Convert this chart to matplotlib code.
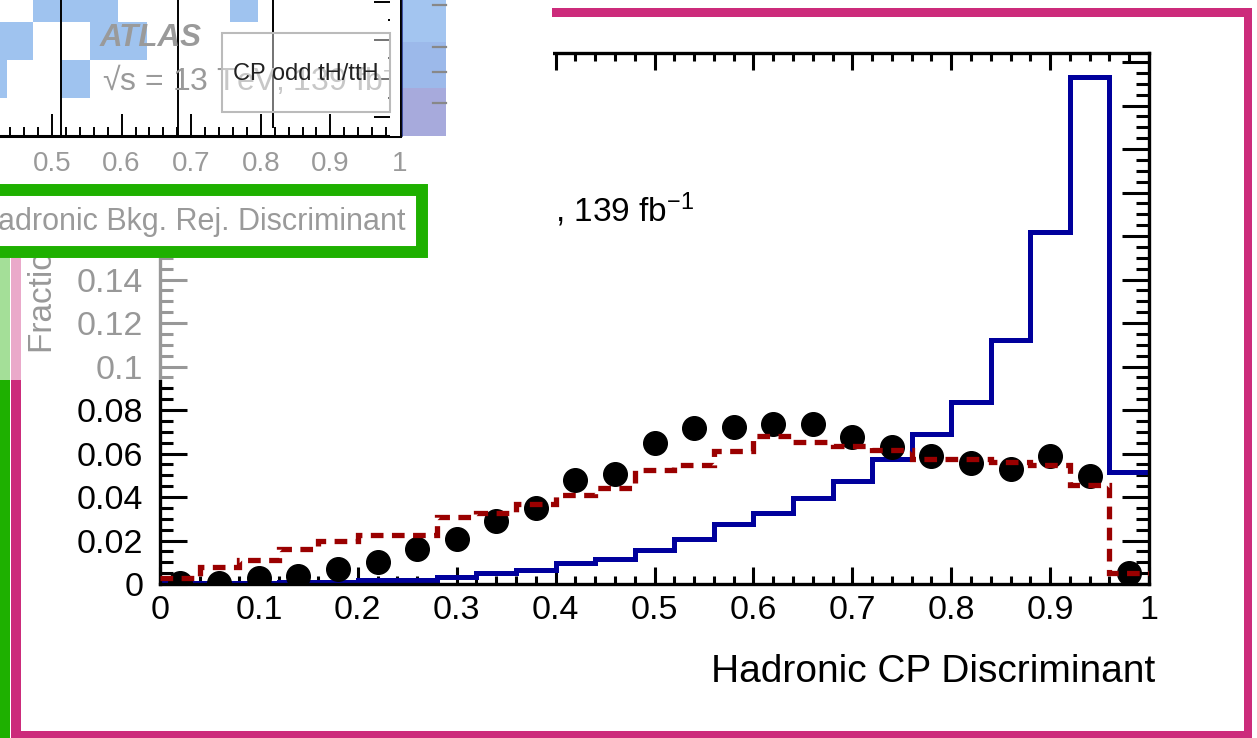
import numpy as np
import matplotlib
matplotlib.use("Agg")
import matplotlib.pyplot as plt
from matplotlib.patches import Rectangle
from matplotlib.ticker import MultipleLocator, FuncFormatter

plt.rcParams['font.family'] = ['Liberation Sans', 'DejaVu Sans']
plt.rcParams['mathtext.fontset'] = 'custom'
plt.rcParams['mathtext.rm'] = 'Liberation Sans'
plt.rcParams['mathtext.it'] = 'Liberation Sans:italic'
plt.rcParams['mathtext.bf'] = 'Liberation Sans:bold'

# ---------------- data (main plot) ----------------
bin_edges = np.linspace(0.0, 1.0, 26)
cp_odd = [0.0004, 0.0005, 0.0006, 0.0008, 0.0010, 0.0018, 0.0018, 0.0033, 0.0052,
          0.0064, 0.0095, 0.0113, 0.0158, 0.0207, 0.0274, 0.0325, 0.0394, 0.0474,
          0.0573, 0.0688, 0.0835, 0.1122, 0.1618, 0.2330, 0.0515]
cp_even = [0.0026, 0.0080, 0.0110, 0.0160, 0.0199, 0.0225, 0.0225, 0.0307, 0.0325,
           0.0368, 0.0410, 0.0443, 0.0524, 0.0547, 0.0613, 0.0680, 0.0654, 0.0634,
           0.0616, 0.0573, 0.0573, 0.0562, 0.0547, 0.0455, 0.0052]
data_pts = [0.0005, 0.0003, 0.0027, 0.0037, 0.0068, 0.0103, 0.0160, 0.0208, 0.0290,
            0.0351, 0.0478, 0.0506, 0.0647, 0.0719, 0.0722, 0.0734, 0.0736, 0.0677,
            0.0628, 0.0589, 0.0558, 0.0530, 0.0589, 0.0497, 0.0049]
x_label = "Hadronic CP Discriminant"
y_label = "Fraction of Events"
lumi_fragment = ", 139 fb$^{-1}$"

# ---------------- data (overlaid inset fragment) ----------------
inset_ticks = [0.5, 0.6, 0.7, 0.8, 0.9, 1.0]
inset_cells_x0 = [0.473, 0.756, 0.4253, 0.555, 0.511, 0.4253]
inset_cells_x1 = [0.595, 0.796, 0.473, 0.636, 0.555, 0.435]
inset_cells_row = [0, 0, 1, 1, 2, 2]
inset_label = "Hadronic Bkg. Rej. Discriminant"

W, H = 1257, 738
fig = plt.figure(figsize=(W / 100, H / 100), dpi=100)


def px_rect(x0, y0, x1, y1):
    return [x0 / W, 1 - y1 / H, (x1 - x0) / W, (y1 - y0) / H]


# ---------------- main axes ----------------
ax = fig.add_axes(px_rect(160, 52.5, 1149, 584))
ax.set_zorder(1)
ax.set_xlim(0, 1)
ax.set_ylim(0, 0.2444)
centers = 0.5 * (bin_edges[:-1] + bin_edges[1:])
ax.stairs(cp_odd, bin_edges, baseline=None, color='#00009c', lw=3.6, zorder=2)
ax.plot(centers, data_pts, 'o', color='black', ms=17, zorder=3)
ax.stairs(cp_even, bin_edges, baseline=None, color='#9a0000', lw=3.8,
          linestyle=(0, (2.4, 1.6)), zorder=4)

fmt = FuncFormatter(lambda v, p: ('%g' % round(v, 4)))
ax.xaxis.set_major_locator(MultipleLocator(0.1))
ax.xaxis.set_minor_locator(MultipleLocator(0.02))
ax.yaxis.set_major_locator(MultipleLocator(0.02))
ax.yaxis.set_minor_locator(MultipleLocator(0.005))
ax.xaxis.set_major_formatter(fmt)
ax.yaxis.set_major_formatter(fmt)
ax.tick_params(axis='both', which='both', direction='in', top=True, right=True,
               width=2.2, labelsize=24.5)
ax.tick_params(axis='x', which='major', length=12, pad=8)
ax.tick_params(axis='x', which='minor', length=6)
ax.tick_params(axis='y', which='major', length=19.5, pad=12)
ax.tick_params(axis='y', which='minor', length=9.5)
for s in ax.spines.values():
    s.set_linewidth(2.4)
ax.set_xlabel(x_label, fontsize=28, loc='right')
ax.xaxis.set_label_coords((1155 - 160) / 989, -(654 - 584) / 531.5)

# ---------------- overlay layer in pixel coordinates ----------------
ov = fig.add_axes([0, 0, 1, 1])
ov.set_zorder(2)
ov.set_xlim(0, W)
ov.set_ylim(H, 0)
ov.axis('off')
ov.patch.set_visible(False)

# y label of main plot (mostly covered)
ov.text(44, 353, y_label, rotation=90, ha='center', va='bottom', fontsize=24,
        color='black', zorder=1)
# fragment of the main plot's luminosity label
ov.text(555, 222, lumi_fragment, ha='left', va='baseline', fontsize=24, zorder=1)

PINK = '#cc2b7b'
GREEN = '#1eb000'
# left vertical coloured bars
ov.add_patch(Rectangle((0, 258), 10, 480, facecolor=GREEN, edgecolor='none', zorder=2))
ov.add_patch(Rectangle((11, 258), 10, 480, facecolor=PINK, edgecolor='none', zorder=2))
# fade region
ov.add_patch(Rectangle((0, 258), 553, 122, facecolor='white', alpha=0.6,
                       edgecolor='none', zorder=3))
# opaque white area at top-left
ov.add_patch(Rectangle((0, 0), 553, 258, facecolor='white', edgecolor='none', zorder=4))
# colour-bar strip of the inset
ov.add_patch(Rectangle((402, 0), 44, 42, facecolor='#a3c5f0', edgecolor='none', zorder=5))
ov.add_patch(Rectangle((402, 42), 44, 46, facecolor='#9cb9ea', edgecolor='none', zorder=5))
ov.add_patch(Rectangle((402, 88), 44, 48, facecolor='#a7aadc', edgecolor='none', zorder=5))
ov.plot([402, 402], [0, 136], color='#2a3a90', lw=1.2, zorder=6)
for yy in [5, 47, 72, 103]:
    ov.plot([433, 446], [yy, yy], color='#888888', lw=1.6, zorder=6)
# green framed label box
ov.add_patch(Rectangle((-20, 190), 442, 62, facecolor='white', edgecolor=GREEN,
                       lw=8.6, zorder=5))
ov.text(405, 222, inset_label, ha='right', va='center', fontsize=22,
        color='#9a9a9a', zorder=6)
# pink frame
ov.add_patch(Rectangle((552, 8), 700, 9, facecolor=PINK, edgecolor='none', zorder=5))
ov.add_patch(Rectangle((1244, 8), 8, 730, facecolor=PINK, edgecolor='none', zorder=5))
ov.add_patch(Rectangle((11, 731), 1241, 7, facecolor=PINK, edgecolor='none', zorder=5))

# ---------------- inset fragment (top-left) ----------------
mini = fig.add_axes(px_rect(0, 0, 400, 136))
mini.set_zorder(3)
mini.set_xlim(0.4253, 1.0)
mini.set_ylim(136, 0)
for x0, x1, r in zip(inset_cells_x0, inset_cells_x1, inset_cells_row):
    y0 = [0, 22, 60][r]
    y1 = [22, 60, 98][r]
    mini.add_patch(Rectangle((x0, y0), x1 - x0, y1 - y0, facecolor='#9fc3ef',
                             edgecolor='none', zorder=1))
mini.plot([0.513, 0.513], [0, 136], color='black', lw=1.4, zorder=2)
mini.plot([0.681, 0.681], [0, 136], color='black', lw=1.4, zorder=2)
mini.plot([0.8175, 0.8175], [0, 127], color='black', lw=1.4, zorder=2)
mini.spines['left'].set_visible(False)
mini.spines['top'].set_visible(False)
mini.spines['bottom'].set_linewidth(2.2)
mini.spines['right'].set_linewidth(2.0)
mini.set_xticks(inset_ticks)
mini.xaxis.set_minor_locator(MultipleLocator(0.02))
mini.xaxis.set_major_formatter(FuncFormatter(lambda v, p: '%g' % round(v, 3)))
mini.tick_params(axis='x', which='both', direction='in', labelcolor='#9a9a9a',
                 labelsize=20, width=1.4)
mini.tick_params(axis='x', which='major', length=16, pad=11)
mini.tick_params(axis='x', which='minor', length=6.5)
mini.yaxis.tick_right()
mini.set_yticks([1.7, 40, 79, 117])
mini.set_yticks([20, 58, 98], minor=True)
mini.tick_params(axis='y', which='both', direction='in', labelright=False,
                 width=1.4)
mini.tick_params(axis='y', which='major', length=19)
mini.tick_params(axis='y', which='minor', length=9)
# texts in the inset
pxt = mini.transAxes
mini.text(100 / 400, 1 - 38 / 136, 'ATLAS', transform=pxt, fontsize=22.5,
          fontweight='bold', fontstyle='italic', color='#9a9a9a', va='center',
          ha='left', zorder=3)
mini.text(102 / 400, 1 - 80 / 136, '\u221as = 13 TeV, 139 fb$^{-1}$', transform=pxt,
          fontsize=23, color='#9a9a9a', va='center', ha='left', zorder=3,
          clip_on=True)
mini.add_patch(Rectangle((222 / 400, 1 - 112 / 136), 168 / 400, 79 / 136,
                         transform=pxt, facecolor='white', alpha=0.45,
                         edgecolor='none', zorder=4))
mini.add_patch(Rectangle((390 / 400, 0), 10 / 400, 1, transform=pxt,
                         facecolor='white', edgecolor='none', zorder=4))
mini.add_patch(Rectangle((222 / 400, 1 - 112 / 136), 168 / 400, 79 / 136,
                         transform=pxt, facecolor='none', edgecolor='#bbbbbb',
                         lw=1.5, zorder=5))
mini.text(306 / 400, 1 - 74 / 136, 'CP odd tH/ttH', transform=pxt,
          fontsize=17, color='#222222', va='center', ha='center',
          family=['Liberation Sans Narrow', 'Liberation Sans'], zorder=6)

fig.savefig('out.png', dpi=100, facecolor='white')
